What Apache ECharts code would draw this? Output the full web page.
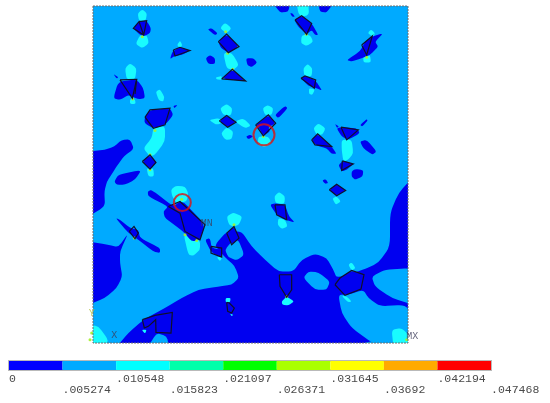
<!DOCTYPE html>
<html>
<head>
<meta charset="utf-8">
<style>
  html, body { margin: 0; padding: 0; background: #fff; }
  #chart { width: 550px; height: 403px; filter: blur(0.45px); }
</style>
<script src="https://cdn.jsdelivr.net/npm/echarts@6/dist/echarts.min.js"></script>
</head>
<body>
<div id="chart"></div>
<script>
// contour levels of the legend
const bandEdges = [0, 0.005274, 0.010548, 0.015823, 0.021097, 0.026371, 0.031645, 0.03692, 0.042194, 0.047468];
const bandColors = ['#0000ff', '#00aaff', '#00ffff', '#00ffaa', '#00ff00', '#aaff00', '#ffff00', '#ffaa00', '#ff0000'];

// extent of the model, in arbitrary model units (y grows downward)
const modelX = [24, 969];
const modelY = [18, 1030];

// regions in the lowest band, under everything else
const baseLowRegions = [
  [[10,455],[60,450],[88,440],[110,420],[135,418],[147,447],[118,468],[98,495],[82,520],[66,545],[58,575],[60,620],[10,650]],
  [[10,725],[70,735],[100,742],[130,700],[105,755],[105,790],[112,830],[95,865],[60,895],[10,915]],
  [[100,1035],[130,1000],[175,960],[240,925],[290,895],[340,870],[400,860],[440,855],[462,835],[450,800],[420,772],[400,750],[390,735],[425,695],[470,695],[500,740],[540,780],[580,815],[625,815],[650,780],[690,762],[725,775],[745,810],[755,835],[835,810],[880,790],[915,740],[915,640],[940,580],[985,530],[985,1040],[100,1040]]
];
// second band showing through the big low region
const islandRegions = [
  [[420,750],[440,725],[460,720],[478,765],[455,782],[430,772]],
  [[655,835],[670,815],[700,818],[735,845],[725,870],[690,870]],
  [[985,805],[900,810],[860,830],[870,860],[920,895],[985,915]],
  [[760,885],[770,940],[800,985],[870,1035],[985,1035],[985,950],[960,915],[885,920],[850,895],[835,870],[790,885]],
  [[190,1040],[215,1000],[245,1010],[252,1040]]
];
// third band, lobes next to the particles
const lobeRegions = [
  [[158,40],[172,28],[186,40],[182,62],[162,62]],
  [[165,105],[185,105],[192,130],[172,145],[152,132]],
  [[276,135],[285,122],[292,135],[285,145]],
  [[405,85],[420,68],[440,85],[425,100]],
  [[415,160],[440,158],[462,195],[445,210],[425,205]],
  [[392,233],[410,228],[410,240],[395,238]],
  [[635,10],[670,10],[672,45],[650,50],[640,40]],
  [[650,105],[675,105],[685,125],[665,138],[648,130]],
  [[848,100],[858,88],[870,100],[865,110]],
  [[835,165],[855,165],[858,188],[835,188]],
  [[655,205],[668,192],[682,205],[680,230],[658,228]],
  [[672,265],[690,268],[682,285],[672,282]],
  [[120,205],[135,190],[155,205],[150,238],[125,238]],
  [[135,298],[150,298],[152,312],[135,312]],
  [[212,275],[225,268],[238,290],[235,305],[222,302]],
  [[205,385],[240,378],[240,425],[210,465],[195,470],[175,445],[200,415]],
  [[185,505],[205,505],[207,530],[190,530]],
  [[372,360],[400,355],[420,365],[395,375]],
  [[405,325],[425,312],[442,325],[438,347],[415,345]],
  [[408,400],[425,382],[445,395],[440,418],[420,420]],
  [[450,365],[475,355],[498,378],[480,385]],
  [[533,325],[548,315],[565,325],[560,345],[540,345]],
  [[520,410],[550,410],[560,430],[540,442],[518,435]],
  [[685,385],[700,370],[722,385],[712,405],[695,405]],
  [[770,420],[800,420],[805,460],[790,480],[775,485],[770,450]],
  [[742,595],[755,590],[768,605],[752,615]],
  [[568,590],[582,576],[600,590],[598,613],[572,610]],
  [[580,655],[600,660],[608,680],[590,688],[578,675]],
  [[258,570],[272,558],[300,560],[310,580],[305,605],[275,610],[262,590]],
  [[295,700],[345,722],[345,750],[325,768],[310,765]],
  [[425,650],[445,638],[472,650],[462,675],[445,680],[432,675]],
  [[590,905],[605,890],[628,905],[610,917],[592,915]],
  [[790,795],[800,788],[812,805],[800,812]],
  [[770,888],[785,890],[800,905],[790,908]],
  [[422,895],[437,895],[435,908],[422,908]],
  [[435,942],[445,945],[440,950]],
  [[170,990],[185,990],[180,1002]],
  [[395,772],[412,772],[405,785]],
  [[10,975],[40,980],[70,1020],[60,1040],[10,1040]],
  [[920,990],[950,985],[975,1010],[975,1040],[925,1040]]
];
// lowest band again, the particles themselves and their tails
const particleRegions = [
  [[145,85],[160,65],[185,62],[198,85],[195,100],[178,108],[165,105]],
  [[255,178],[262,155],[285,142],[315,152],[290,165],[268,168]],
  [[400,125],[425,102],[462,140],[430,158],[408,145]],
  [[368,88],[380,85],[398,100],[390,106]],
  [[362,175],[375,165],[390,175],[390,192],[370,192]],
  [[483,175],[505,175],[517,188],[500,202],[487,195]],
  [[410,237],[442,208],[482,243]],
  [[565,10],[615,10],[610,35],[585,38]],
  [[700,10],[745,10],[725,38],[705,35]],
  [[615,40],[622,40],[630,50],[622,50]],
  [[628,60],[650,47],[680,70],[700,105],[690,105],[680,90],[665,103],[640,80]],
  [[785,180],[825,155],[840,125],[865,108],[895,100],[870,125],[880,140],[855,165],[830,175],[800,185]],
  [[648,235],[660,228],[690,240],[712,272],[695,265],[670,258]],
  [[85,295],[100,245],[155,238],[175,265],[180,295],[160,298],[130,285],[105,300]],
  [[85,222],[100,232],[95,236]],
  [[180,350],[195,330],[255,325],[265,345],[240,375],[205,385],[178,370]],
  [[265,318],[278,315],[268,325]],
  [[172,485],[195,465],[215,488],[195,508]],
  [[88,545],[100,525],[170,510],[150,540],[120,555],[95,555]],
  [[403,363],[425,347],[453,367],[428,382]],
  [[512,375],[550,345],[572,370],[550,382],[555,395],[535,408],[522,385]],
  [[570,345],[600,318],[608,325],[580,355]],
  [[483,410],[495,405],[505,410],[490,418]],
  [[680,420],[698,402],[740,440],[755,462],[740,462],[725,445],[695,438]],
  [[755,385],[770,382],[815,385],[825,400],[790,420],[770,410]],
  [[750,372],[762,380],[756,384]],
  [[825,375],[845,358],[848,362],[832,380]],
  [[825,425],[845,420],[875,455],[862,465],[835,445]],
  [[760,495],[775,483],[805,492],[785,510],[770,515]],
  [[800,515],[810,508],[835,510],[833,530],[810,540],[800,530]],
  [[733,570],[755,553],[782,572],[755,588]],
  [[712,542],[722,538],[730,550],[720,552]],
  [[555,615],[570,610],[600,615],[612,650],[630,668],[600,660],[575,645]],
  [[188,575],[200,570],[265,620],[285,605],[300,610],[360,675],[345,720],[320,725],[295,695],[240,655],[235,635],[250,620],[190,590]],
  [[92,655],[105,660],[135,685],[160,690],[165,715],[225,745],[225,760],[205,755],[160,720],[130,700]],
  [[360,720],[375,715],[380,745],[410,750],[412,772],[380,760]],
  [[425,700],[447,680],[462,715],[440,735]],
  [[425,908],[433,910],[448,925],[440,940],[428,935]],
  [[583,825],[620,825],[620,870],[605,892],[585,860]],
  [[750,855],[765,835],[800,812],[837,825],[828,868],[780,887]],
  [[172,960],[210,947],[262,938],[258,1000],[213,998],[178,985]]
];
// element edges, drawn in black over the contours
const elementEdges = [
  [[162,65],[185,62],[176,105],[145,85],[162,65],[176,105]],
  [[265,150],[285,142],[315,152],[270,168],[265,150]],
  [[400,125],[425,102],[462,140],[430,158],[400,125]],
  [[410,237],[442,208],[482,243],[410,237]],
  [[630,60],[650,47],[680,70],[665,103],[630,60]],
  [[830,135],[862,108],[845,165],[830,135]],
  [[648,235],[660,228],[692,240],[688,265],[648,235]],
  [[105,240],[155,238],[142,295],[105,240]],
  [[155,238],[150,282]],
  [[180,352],[195,330],[255,325],[240,375],[205,385],[180,352]],
  [[172,485],[195,465],[213,488],[195,508],[172,485]],
  [[403,363],[425,347],[453,367],[428,382],[403,363]],
  [[512,375],[550,345],[572,370],[535,408],[512,375]],
  [[680,420],[698,402],[740,440],[690,435],[680,420]],
  [[768,382],[820,390],[785,420],[768,382]],
  [[772,483],[805,492],[770,512],[772,483]],
  [[733,570],[755,553],[782,572],[755,588],[733,570]],
  [[570,615],[600,615],[605,660],[575,645],[570,615]],
  [[250,620],[285,605],[360,675],[345,720],[300,695],[285,640],[250,620]],
  [[133,695],[147,680],[160,700],[150,717],[133,695]],
  [[378,740],[410,745],[410,772],[378,760],[378,740]],
  [[425,700],[447,680],[462,715],[440,735],[425,700]],
  [[583,825],[620,825],[620,870],[605,892],[585,860],[583,825]],
  [[750,855],[765,835],[800,812],[837,825],[828,868],[780,887],[750,855]],
  [[425,908],[433,910],[448,925],[440,940],[428,935],[425,908]],
  [[172,960],[210,947],[262,938],[258,1000],[213,998],[212,960],[190,980],[178,985],[172,960]]
];
// small hot spots at the particle tips
const tipPoints = [
  [172,110],[422,95],[428,160],[443,208],[664,103],[845,172],[143,297],[210,392],[195,465],[195,510],
  [535,410],[148,715],[290,598],[300,705],[335,722],[447,675],[605,890],[20,1000],[15,1020],[965,1020]
];
// circled locations and their marker sizes
const circledPoints = [[537,405,21],[292,608,17]];
// plot annotations
const plotLabels = [['X',88,1007],['MX',982,1010],['MN',365,672]];
const triadLabels = [['Y',20,940]];

const chart = echarts.init(document.getElementById('chart'));

// closed outline through the points, only the corners are rounded
function blobPath(pts) {
  const along = (a, b, t) => [a[0] + (b[0] - a[0]) * t, a[1] + (b[1] - a[1]) * t];
  let d = '';
  pts.forEach((p, i) => {
    const prev = pts[(i + pts.length - 1) % pts.length];
    const next = pts[(i + 1) % pts.length];
    const s = along(p, prev, 0.3);
    const e = along(p, next, 0.3);
    d += (i === 0 ? 'M' : 'L') + s[0] + ' ' + s[1];
    d += 'Q' + p[0] + ' ' + p[1] + ' ' + e[0] + ' ' + e[1];
  });
  return d + 'Z';
}

function regionSeries(regions, color, z) {
  return {
    type: 'custom',
    xAxisIndex: 0,
    yAxisIndex: 0,
    z: z,
    clip: true,
    silent: true,
    data: regions.map((r, i) => [i]),
    renderItem: (params, api) => {
      const pts = regions[api.value(0)].map(p => api.coord(p));
      return { type: 'path', shape: { pathData: blobPath(pts) }, style: { fill: color, stroke: null } };
    }
  };
}

const option = {
  animation: false,
  backgroundColor: '#fff',
  grid: [
    { left: 93, top: 6, width: 315, height: 337, show: true, backgroundColor: '#00aaff', borderWidth: 0 },
    { left: 9, top: 361, width: 482, height: 9, show: true, borderColor: '#b9b9b9', borderWidth: 2 }
  ],
  xAxis: [
    { gridIndex: 0, type: 'value', min: modelX[0], max: modelX[1], show: false },
    {
      gridIndex: 1, type: 'value', min: 0, max: bandEdges[9],
      axisLine: { show: false }, axisTick: { show: false }, splitLine: { show: false },
      axisLabel: {
        customValues: bandEdges.filter((v, i) => i % 2 === 0),
        formatter: v => String(v).replace('0.', '.'),
        fontFamily: 'Liberation Mono', fontSize: 11.5, color: '#4a4a4a', margin: 3, align: 'left',
        hideOverlap: false
      }
    },
    {
      gridIndex: 1, type: 'value', min: 0, max: bandEdges[9], position: 'bottom', offset: 11,
      axisLine: { show: false }, axisTick: { show: false }, splitLine: { show: false },
      axisLabel: {
        customValues: bandEdges.filter((v, i) => i % 2 === 1),
        formatter: v => String(v).replace('0.', '.'),
        fontFamily: 'Liberation Mono', fontSize: 11.5, color: '#4a4a4a', margin: 3, align: 'left',
        hideOverlap: false
      }
    }
  ],
  yAxis: [
    { gridIndex: 0, type: 'value', min: modelY[0], max: modelY[1], inverse: true, show: false },
    { gridIndex: 1, type: 'value', min: 0, max: 1, show: false }
  ],
  series: [
    regionSeries(baseLowRegions, '#0000f0', 2),
    regionSeries(islandRegions, '#00aaff', 3),
    regionSeries(lobeRegions, '#19fbff', 4),
    regionSeries(particleRegions, '#0000f0', 5),
    {
      type: 'scatter', z: 6, silent: true, clip: false, symbol: 'circle', symbolSize: 3,
      itemStyle: { color: '#a4f02a', opacity: 0.9 },
      data: tipPoints
    },
    {
      type: 'custom', z: 7, silent: true, clip: false,
      data: elementEdges.map((e, i) => [i]),
      renderItem: (params, api) => ({
        type: 'polyline',
        shape: { points: elementEdges[api.value(0)].map(p => api.coord(p)) },
        style: { stroke: '#10102a', lineWidth: 1.2, fill: null }
      })
    },
    {
      // dashed model frame
      type: 'custom', z: 8, silent: true, clip: false,
      data: [[modelX[0], modelY[0], modelX[1], modelY[1]]],
      renderItem: (params, api) => {
        const a = api.coord([api.value(0), api.value(1)]);
        const b = api.coord([api.value(2), api.value(3)]);
        return { type: 'rect', shape: { x: a[0], y: a[1], width: b[0] - a[0], height: b[1] - a[1] },
          style: { fill: null, stroke: '#6f6f6f', lineWidth: 1, lineDash: [2, 1] } };
      }
    },
    {
      type: 'scatter', z: 9, silent: true, clip: false,
      symbolSize: v => v[2],
      itemStyle: { color: 'transparent', borderColor: '#e01010', borderWidth: 2 },
      data: circledPoints
    },
    {
      type: 'scatter', z: 9, silent: true, clip: false, symbolSize: 0,
      label: { show: true, position: 'inside', formatter: p => p.value[0], fontFamily: 'Liberation Mono', fontSize: 10, color: '#3c3c5a' },
      encode: { x: 1, y: 2 },
      data: plotLabels
    },
    {
      type: 'scatter', z: 9, silent: true, clip: false, symbolSize: 0,
      label: { show: true, position: 'inside', formatter: p => p.value[0], fontFamily: 'Liberation Mono', fontSize: 10, color: '#b0c040' },
      encode: { x: 1, y: 2 },
      data: triadLabels
    },
    {
      // legend bar
      type: 'custom', xAxisIndex: 1, yAxisIndex: 1, z: 2, silent: true,
      data: bandColors.map((c, i) => [bandEdges[i], bandEdges[i + 1], i]),
      renderItem: (params, api) => {
        const a = api.coord([api.value(0), 1]);
        const b = api.coord([api.value(1), 0]);
        return { type: 'rect', shape: { x: a[0], y: a[1], width: b[0] - a[0], height: b[1] - a[1] },
          style: { fill: bandColors[api.value(2)] } };
      }
    }
  ]
};

chart.setOption(option);
</script>
</body>
</html>
